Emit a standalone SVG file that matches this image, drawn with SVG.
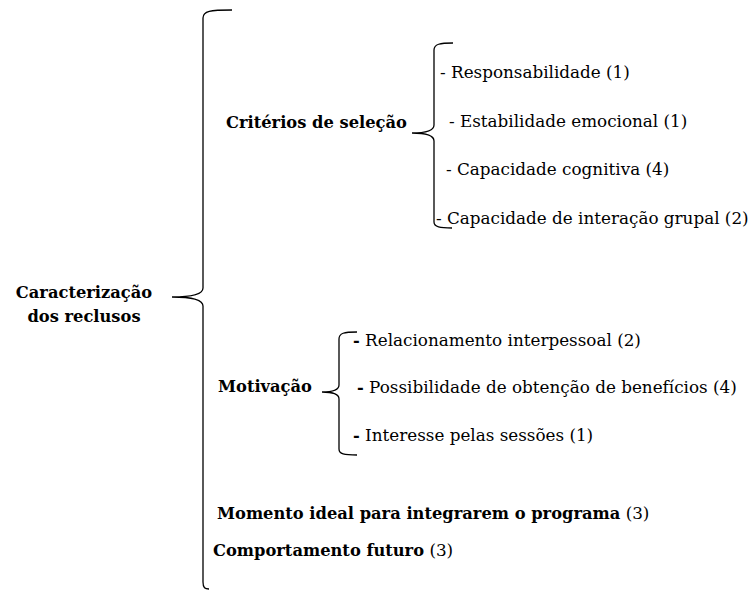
<svg xmlns="http://www.w3.org/2000/svg" width="751" height="592" viewBox="0 0 751 592">
<style>
.t{font-family:'DejaVu Serif',serif;font-size:16.8px;fill:#000}
.b{font-weight:bold;font-size:16.3px}
.br{fill:none;stroke:#000;stroke-width:1.3}
</style>
<rect width="751" height="592" fill="#fff"/>
<g id="connectors">
<path class="br" d="M232,10 C210,10 203,11 203,18 L203,288 C203,295 190,297 172,297 C190,297 203,299 203,306 L203,582 C203,588 205,589 209,589"/>
<path class="br" d="M453,43 C440,43 434,44 434,50 L434,125 C434,131 425,133 412,133 C425,133 434,135 434,141 L434,222 C434,227 440,228 452,228"/>
<path class="br" d="M357,332 C344,332 339,333 339,339 L339,385 C339,390 333,392 322,392 C333,392 339,394 339,399 L339,449 C339,454 344,455 357,455"/>
</g>
<g class="t">
<g id="root"><text class="b" x="84" y="298" text-anchor="middle">Caracterização</text><text class="b" x="84" y="322" text-anchor="middle">dos reclusos</text></g>
<g id="criterios"><text class="b" x="226" y="128">Critérios de seleção</text></g>
<g id="c1"><text x="440" y="78">- Responsabilidade (1)</text></g>
<g id="c2"><text x="449" y="127">- Estabilidade emocional (1)</text></g>
<g id="c3"><text x="446" y="175">- Capacidade cognitiva (4)</text></g>
<g id="c4"><text x="436" y="224">- Capacidade de interação grupal (2)</text></g>
<g id="motivacao"><text class="b" x="218" y="392">Motivação</text></g>
<g id="m1"><text x="353" y="346"><tspan class="b">-</tspan> Relacionamento interpessoal (2)</text></g>
<g id="m2"><text x="357" y="393"><tspan class="b">-</tspan> Possibilidade de obtenção de benefícios (4)</text></g>
<g id="m3"><text x="353" y="441"><tspan class="b">-</tspan> Interesse pelas sessões (1)</text></g>
<g id="momento"><text x="217" y="519"><tspan class="b">Momento ideal para integrarem o programa</tspan> (3)</text></g>
<g id="comportamento"><text x="213" y="556"><tspan class="b">Comportamento futuro</tspan> (3)</text></g>
</g>
</svg>
